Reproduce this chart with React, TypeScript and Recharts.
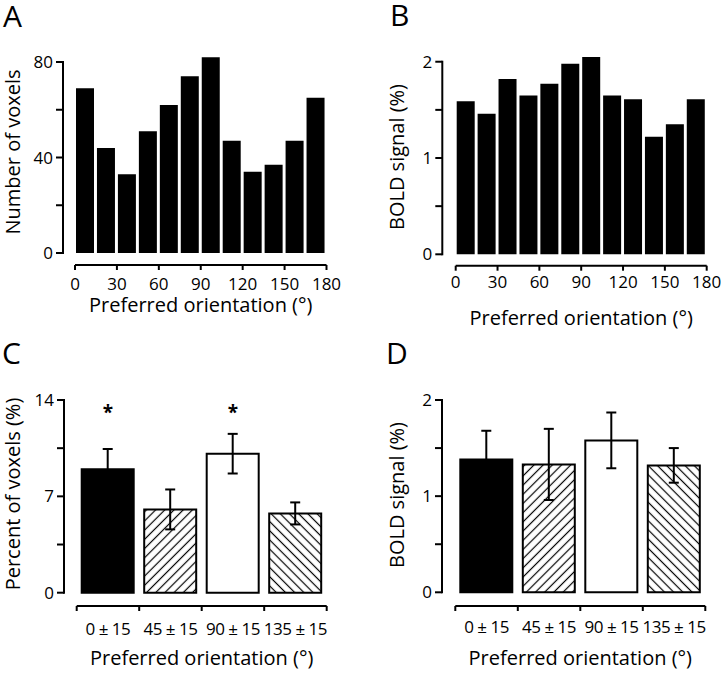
import React from 'react';
import {
  ComposedChart,
  Bar,
  Cell,
  ErrorBar,
  Scatter,
  XAxis,
  YAxis,
  ReferenceLine,
  Label,
} from 'recharts';

// ---------------------------------------------------------------------------
// Data
// ---------------------------------------------------------------------------

const FONT = '"Open Sans", "DejaVu Sans", sans-serif';
const INK = '#000000';

// Panels A & B: 15 deg orientation bins (bin centres)
const binCenters = [7.5, 22.5, 37.5, 52.5, 67.5, 82.5, 97.5, 112.5, 127.5, 142.5, 157.5, 172.5];
const voxelCounts = [69, 44, 33, 51, 62, 74, 82, 47, 34, 37, 47, 65];
const binBold = [1.59, 1.46, 1.82, 1.65, 1.77, 1.98, 2.05, 1.65, 1.61, 1.22, 1.35, 1.61];
const orientationTicks = [0, 30, 60, 90, 120, 150, 180];
const voxelTicks = [0, 20, 40, 60, 80];
const voxelLabels = [0, 40, 80];
const boldTicks = [0, 0.5, 1, 1.5, 2];
const boldLabels = [0, 1, 2];

// Panels C & D: four orientation groups
const groupNames = ['0 ± 15', '45 ± 15', '90 ± 15', '135 ± 15'];
const groupCenters = [0.5, 1.5, 2.5, 3.5];
const groupEdges = [0, 1, 2, 3, 4];
const groupFills = ['solid', 'hatchUp', 'open', 'hatchDown'];
const percentVoxels = [8.96, 6.05, 10.1, 5.76];
const percentErr = [1.48, 1.45, 1.44, 0.8];
const percentStars = [13.35, null, 13.35, null];
const percentTicks = [0, 3.5, 7, 10.5, 14];
const percentLabels = [0, 7, 14];
const groupBold = [1.38, 1.33, 1.58, 1.32];
const groupBoldErr = [0.3, 0.37, 0.29, 0.18];

const X_TITLE = 'Preferred orientation (°)';

// ---------------------------------------------------------------------------
// Panel
// ---------------------------------------------------------------------------

interface PanelProps {
  id: string;
  left: number;
  top: number;
  width: number;
  height: number;
  data: any[];
  stars?: any[];
  yMax: number;
  yAxisTop: number;
  yTicks: number[];
  yLabels: number[];
  yTitle: string;
  xDomain: [number, number];
  xTicks: number[];
  xMarks: number[];
  xLabel: (v: number) => string;
  xLabelSpacing?: number;
  barSize: number;
  plotLeft: number;
  plotRight: number;
  plotTop: number;
  plotBottom: number;
  xPad: number;
  axisGap: number;
  tickBaseline: number;
  titleBaseline: number;
  yTitleX: number;
  yTitleY: number;
  grouped?: boolean;
}

function fillFor(kind: string, id: string): string {
  if (kind === 'hatchUp') return `url(#${id}-up)`;
  if (kind === 'hatchDown') return `url(#${id}-down)`;
  if (kind === 'open') return '#ffffff';
  return INK;
}

const Panel: React.FC<PanelProps> = (p) => {
  const xStart = p.plotLeft + p.xPad;
  const titleX = (xStart + p.plotRight) / 2;

  const renderXTick = (props: any) => {
    const { x, y, payload } = props;
    const v = payload.value;
    const label = p.xLabel(v);
    return (
      <g>
        {p.xMarks.includes(v) && (
          <line x1={x} x2={x} y1={y + p.axisGap} y2={y + p.axisGap + 5} stroke={INK} strokeWidth={2} />
        )}
        {label && (
          <text
            x={x}
            y={y + p.tickBaseline}
            textAnchor="middle"
            fontSize={17}
            fontFamily={FONT}
            letterSpacing={p.xLabelSpacing || 0}
            fill={INK}
          >
            {label}
          </text>
        )}
      </g>
    );
  };

  const renderStar = (props: any) => {
    if (props.cx == null || props.cy == null) return <g />;
    return (
      <text x={props.cx} y={props.cy + 10} textAnchor="middle" fontSize={19} fontWeight="bold" fontFamily={FONT} fill={INK}>
        *
      </text>
    );
  };

  return (
    <div style={{ position: 'absolute', left: p.left, top: p.top, width: p.width, height: p.height }}>
      <ComposedChart
        width={p.width}
        height={p.height}
        data={p.data}
        margin={{ top: p.plotTop, right: p.width - p.plotRight, bottom: 0, left: 0 }}
      >
        <defs>
          <pattern id={`${p.id}-up`} patternUnits="userSpaceOnUse" width={6.5} height={6.5} patternTransform="rotate(45)">
            <rect width={6.5} height={6.5} fill="#ffffff" />
            <line x1={3.25} y1={0} x2={3.25} y2={6.5} stroke={INK} strokeWidth={1.2} />
          </pattern>
          <pattern id={`${p.id}-down`} patternUnits="userSpaceOnUse" width={6.5} height={6.5} patternTransform="rotate(-45)">
            <rect width={6.5} height={6.5} fill="#ffffff" />
            <line x1={3.25} y1={0} x2={3.25} y2={6.5} stroke={INK} strokeWidth={1.2} />
          </pattern>
        </defs>
        <XAxis
          type="number"
          dataKey="x"
          domain={p.xDomain}
          ticks={p.xTicks}
          interval={0}
          padding={{ left: p.xPad, right: 0 }}
          height={p.height - p.plotBottom}
          axisLine={false}
          tickLine={false}
          tickSize={0}
          tickMargin={0}
          tick={renderXTick}
        >
          <Label
            content={() => (
              <text x={titleX} y={p.plotBottom + p.titleBaseline} textAnchor="middle" fontSize={20} fontFamily={FONT} fill={INK}>
                {X_TITLE}
              </text>
            )}
          />
        </XAxis>
        <YAxis
          type="number"
          domain={[0, p.yMax]}
          ticks={p.yTicks}
          interval={0}
          width={p.plotLeft}
          axisLine={false}
          tickLine={{ stroke: INK, strokeWidth: 2 }}
          tickSize={7}
          tickMargin={3}
          tick={{ fill: INK, fontSize: 17, fontFamily: FONT }}
          tickFormatter={(v: number) => (p.yLabels.includes(v) ? String(v) : '')}
        >
          <Label
            content={() => (
              <text
                x={p.yTitleX}
                y={p.yTitleY}
                transform={`rotate(-90 ${p.yTitleX} ${p.yTitleY})`}
                textAnchor="middle"
                fontSize={20}
                fontFamily={FONT}
                fill={INK}
              >
                {p.yTitle}
              </text>
            )}
          />
        </YAxis>
        <Bar
          dataKey="y"
          barSize={p.barSize}
          fill={INK}
          stroke={p.grouped ? INK : 'none'}
          strokeWidth={p.grouped ? 2 : 0}
          isAnimationActive={false}
        >
          {p.data.map((d, i) => (
            <Cell key={i} fill={fillFor(d.fill || 'solid', p.id)} />
          ))}
          {p.grouped && <ErrorBar dataKey="err" width={5} strokeWidth={2} stroke={INK} direction="y" />}
        </Bar>
        {p.stars && p.stars.length > 0 && (
          <Scatter data={p.stars} dataKey="star" shape={renderStar} isAnimationActive={false} />
        )}
        <ReferenceLine
          segment={[{ x: p.xDomain[0], y: 0 }, { x: p.xDomain[1], y: 0 }]}
          ifOverflow="visible"
          shape={(s: any) => (
            <line x1={s.x1} x2={s.x2} y1={s.y1 + p.axisGap} y2={s.y2 + p.axisGap} stroke={INK} strokeWidth={2} />
          )}
        />
        <ReferenceLine
          segment={[{ x: p.xDomain[0], y: 0 }, { x: p.xDomain[0], y: p.yAxisTop }]}
          ifOverflow="visible"
          shape={(s: any) => (
            <line x1={s.x1 - p.xPad} x2={s.x2 - p.xPad} y1={s.y1 + 1} y2={s.y2 - 1} stroke={INK} strokeWidth={2} />
          )}
        />
      </ComposedChart>
    </div>
  );
};

// ---------------------------------------------------------------------------
// Figure
// ---------------------------------------------------------------------------

const binLabel = (v: number) => (orientationTicks.includes(v) ? String(v) : '');
const groupLabel = (v: number) => {
  const i = groupCenters.indexOf(v);
  return i >= 0 ? groupNames[i] : '';
};
const groupTicks = [...groupEdges, ...groupCenters].sort((a, b) => a - b);

export default function App() {
  const dataA = binCenters.map((x, i) => ({ x, y: voxelCounts[i] }));
  const dataB = binCenters.map((x, i) => ({ x, y: binBold[i] }));
  const dataC = groupCenters.map((x, i) => ({ x, y: percentVoxels[i], err: percentErr[i], fill: groupFills[i] }));
  const dataD = groupCenters.map((x, i) => ({ x, y: groupBold[i], err: groupBoldErr[i], fill: groupFills[i] }));
  const starsC = groupCenters
    .map((x, i) => ({ x, star: percentStars[i] }))
    .filter((d) => d.star != null);

  return (
    <div
      style={{
        position: 'absolute',
        left: 0,
        top: 0,
        width: 723,
        height: 673,
        background: '#ffffff',
        fontFamily: FONT,
        overflow: 'hidden',
      }}
    >
      <Panel
        id="a"
        left={0}
        top={0}
        width={361}
        height={330}
        data={dataA}
        yMax={84}
        yAxisTop={80}
        yTicks={voxelTicks}
        yLabels={voxelLabels}
        yTitle="Number of voxels"
        xDomain={[0, 180]}
        xTicks={orientationTicks}
        xMarks={orientationTicks}
        xLabel={binLabel}
        barSize={18}
        plotLeft={63}
        plotRight={326.5}
        plotTop={52.45}
        plotBottom={253}
        xPad={12}
        axisGap={12}
        tickBaseline={37}
        titleBaseline={59}
        yTitleX={20}
        yTitleY={152}
      />
      <Panel
        id="b"
        left={361}
        top={0}
        width={362}
        height={330}
        data={dataB}
        yMax={2.1}
        yAxisTop={2}
        yTicks={boldTicks}
        yLabels={boldLabels}
        yTitle="BOLD signal (%)"
        xDomain={[0, 180]}
        xTicks={orientationTicks}
        xMarks={orientationTicks}
        xLabel={binLabel}
        barSize={18}
        plotLeft={81.3}
        plotRight={345.7}
        plotTop={52.1}
        plotBottom={254.3}
        xPad={13.4}
        axisGap={11.4}
        tickBaseline={34}
        titleBaseline={70.7}
        yTitleX={43}
        yTitleY={157}
      />
      <Panel
        id="c"
        left={0}
        top={330}
        width={361}
        height={343}
        data={dataC}
        stars={starsC}
        yMax={14}
        yAxisTop={14}
        yTicks={percentTicks}
        yLabels={percentLabels}
        yTitle="Percent of voxels (%)"
        xDomain={[0, 4]}
        xTicks={groupTicks}
        xMarks={groupEdges}
        xLabel={groupLabel}
        xLabelSpacing={-0.5}
        barSize={52}
        plotLeft={64}
        plotRight={326.7}
        plotTop={70}
        plotBottom={262.7}
        xPad={12.7}
        axisGap={13.3}
        tickBaseline={42.3}
        titleBaseline={72.3}
        yTitleX={20}
        yTitleY={164}
        grouped
      />
      <Panel
        id="d"
        left={361}
        top={330}
        width={362}
        height={343}
        data={dataD}
        yMax={2}
        yAxisTop={2}
        yTicks={boldTicks}
        yLabels={boldLabels}
        yTitle="BOLD signal (%)"
        xDomain={[0, 4]}
        xTicks={groupTicks}
        xMarks={groupEdges}
        xLabel={groupLabel}
        xLabelSpacing={-0.5}
        barSize={52}
        plotLeft={81}
        plotRight={344.3}
        plotTop={70}
        plotBottom={262.3}
        xPad={13.3}
        axisGap={13.7}
        tickBaseline={41}
        titleBaseline={73}
        yTitleX={43}
        yTitleY={165}
        grouped
      />
      <svg
        width={723}
        height={673}
        style={{ position: 'absolute', left: 0, top: 0, pointerEvents: 'none' }}
      >
        <text x={3} y={27} fontSize={30} fontFamily={FONT} fill={INK}>A</text>
        <text x={390} y={26} fontSize={30} fontFamily={FONT} fill={INK}>B</text>
        <text x={2} y={364} fontSize={30} fontFamily={FONT} fill={INK}>C</text>
        <text x={386} y={364} fontSize={30} fontFamily={FONT} fill={INK}>D</text>
      </svg>
    </div>
  );
}
